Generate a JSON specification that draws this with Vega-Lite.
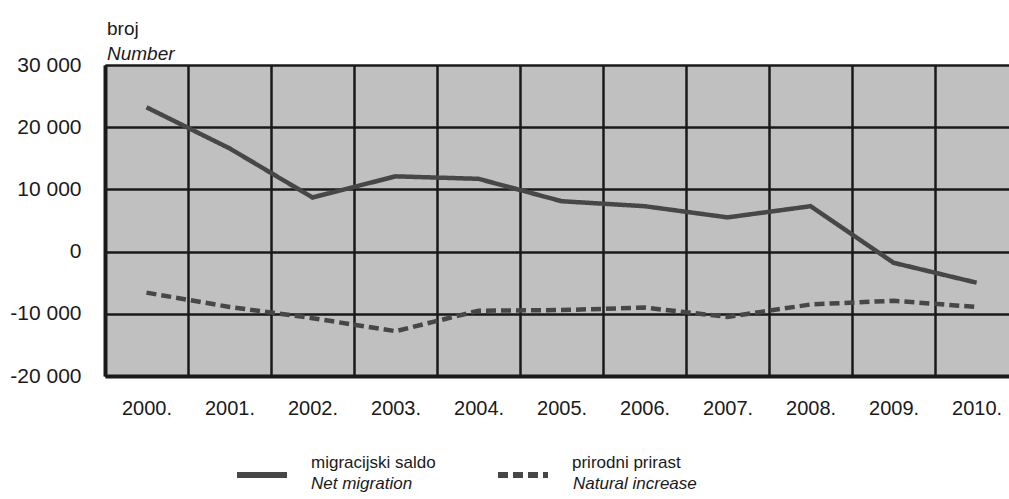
{
  "$schema": "https://vega.github.io/schema/vega-lite/v6.json",
  "width": 904,
  "height": 311,
  "autosize": {"type": "none"},
  "padding": {"left": 105, "top": 65, "right": 0, "bottom": 123},
  "background": "white",
  "config": {
    "font": "Liberation Sans",
    "locale": {"number": {"decimal": ",", "thousands": " ", "grouping": [3], "currency": ["", ""], "minus": "-"}},
    "view": {"fill": "#c0c0c0", "stroke": null}
  },
  "title": {
    "text": "broj",
    "subtitle": "Number",
    "anchor": "start",
    "frame": "group",
    "fontSize": 19,
    "fontWeight": "normal",
    "subtitleFontSize": 19,
    "subtitleFontStyle": "italic",
    "offset": -10,
    "subtitlePadding": 6,
    "color": "#1a1a1a",
    "subtitleColor": "#1a1a1a",
    "dx": 2
  },
  "data": {
    "values": [
      {"godina": 2000, "vrijednost": 23200, "serija": "migracijski saldo", "serija_en": "Net migration"},
      {"godina": 2001, "vrijednost": 16600, "serija": "migracijski saldo", "serija_en": "Net migration"},
      {"godina": 2002, "vrijednost": 8700, "serija": "migracijski saldo", "serija_en": "Net migration"},
      {"godina": 2003, "vrijednost": 12100, "serija": "migracijski saldo", "serija_en": "Net migration"},
      {"godina": 2004, "vrijednost": 11700, "serija": "migracijski saldo", "serija_en": "Net migration"},
      {"godina": 2005, "vrijednost": 8100, "serija": "migracijski saldo", "serija_en": "Net migration"},
      {"godina": 2006, "vrijednost": 7300, "serija": "migracijski saldo", "serija_en": "Net migration"},
      {"godina": 2007, "vrijednost": 5500, "serija": "migracijski saldo", "serija_en": "Net migration"},
      {"godina": 2008, "vrijednost": 7300, "serija": "migracijski saldo", "serija_en": "Net migration"},
      {"godina": 2009, "vrijednost": -1800, "serija": "migracijski saldo", "serija_en": "Net migration"},
      {"godina": 2010, "vrijednost": -5000, "serija": "migracijski saldo", "serija_en": "Net migration"},
      {"godina": 2000, "vrijednost": -6600, "serija": "prirodni prirast", "serija_en": "Natural increase"},
      {"godina": 2001, "vrijednost": -8900, "serija": "prirodni prirast", "serija_en": "Natural increase"},
      {"godina": 2002, "vrijednost": -10700, "serija": "prirodni prirast", "serija_en": "Natural increase"},
      {"godina": 2003, "vrijednost": -12800, "serija": "prirodni prirast", "serija_en": "Natural increase"},
      {"godina": 2004, "vrijednost": -9500, "serija": "prirodni prirast", "serija_en": "Natural increase"},
      {"godina": 2005, "vrijednost": -9400, "serija": "prirodni prirast", "serija_en": "Natural increase"},
      {"godina": 2006, "vrijednost": -9000, "serija": "prirodni prirast", "serija_en": "Natural increase"},
      {"godina": 2007, "vrijednost": -10500, "serija": "prirodni prirast", "serija_en": "Natural increase"},
      {"godina": 2008, "vrijednost": -8500, "serija": "prirodni prirast", "serija_en": "Natural increase"},
      {"godina": 2009, "vrijednost": -7900, "serija": "prirodni prirast", "serija_en": "Natural increase"},
      {"godina": 2010, "vrijednost": -8900, "serija": "prirodni prirast", "serija_en": "Natural increase"}
    ]
  },
  "mark": {"type": "line", "strokeWidth": 4.5, "color": "#474747", "clip": true},
  "encoding": {
    "x": {
      "field": "godina",
      "type": "quantitative",
      "scale": {"domain": [1999.5, 2010.39], "nice": false, "zero": false},
      "axis": {
        "title": null,
        "values": [1999.5, 2000.5, 2001.5, 2002.5, 2003.5, 2004.5, 2005.5, 2006.5, 2007.5, 2008.5, 2009.5],
        "labelExpr": "(floor(datum.value) + 1) + '.'",
        "labelOffset": 41.5,
        "labelPadding": 22,
        "labelFontSize": 20,
        "labelColor": "#1a1a1a",
        "labelFlush": false,
        "labelOverlap": false,
        "ticks": false,
        "grid": true,
        "gridColor": "#1a1a1a",
        "gridWidth": 2.5,
        "gridOpacity": 1,
        "domain": true,
        "domainColor": "#1a1a1a",
        "domainWidth": 4
      }
    },
    "y": {
      "field": "vrijednost",
      "type": "quantitative",
      "scale": {"domain": [-20000, 30000], "nice": false},
      "axis": {
        "title": null,
        "values": [-20000, -10000, 0, 10000, 20000, 30000],
        "format": ",d",
        "labelPadding": 24,
        "labelFontSize": 21,
        "labelColor": "#1a1a1a",
        "labelFlush": false,
        "ticks": false,
        "grid": true,
        "gridColor": "#1a1a1a",
        "gridWidth": 2.5,
        "gridOpacity": 1,
        "domain": true,
        "domainColor": "#1a1a1a",
        "domainWidth": 4
      }
    },
    "strokeDash": {
      "field": "serija",
      "type": "nominal",
      "scale": {"domain": ["migracijski saldo", "prirodni prirast"], "range": [[1, 0], [10, 5]]},
      "legend": {
        "orient": "none",
        "legendX": 129,
        "legendY": 382,
        "direction": "horizontal",
        "title": null,
        "padding": 0,
        "symbolType": "stroke",
        "symbolSize": 2500,
        "symbolStrokeWidth": 6,
        "symbolStrokeColor": "#474747",
        "labelFontSize": 17,
        "labelColor": "#1a1a1a",
        "labelOffset": 21,
        "labelLimit": 300,
        "columnPadding": 50,
        "encode": {"labels": {"update": {"dy": {"value": -12}}}}
      }
    },
    "opacity": {
      "field": "serija_en",
      "type": "nominal",
      "scale": {"domain": ["Net migration", "Natural increase"], "range": [1, 1]},
      "legend": {
        "orient": "none",
        "legendX": 132,
        "legendY": 394,
        "direction": "horizontal",
        "title": null,
        "padding": 0,
        "symbolType": "stroke",
        "symbolSize": 2500,
        "symbolOpacity": 0,
        "symbolStrokeWidth": 0,
        "labelFontSize": 17,
        "labelFontStyle": "italic",
        "labelColor": "#1a1a1a",
        "labelOffset": 24,
        "labelLimit": 300,
        "columnPadding": 86
      }
    }
  }
}
